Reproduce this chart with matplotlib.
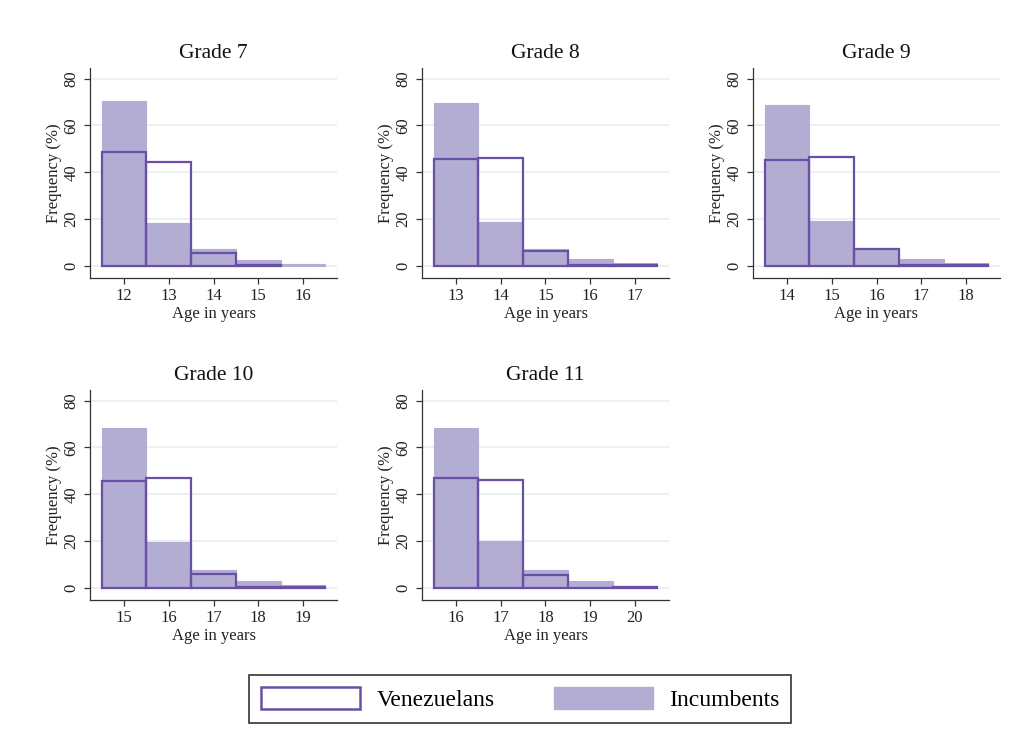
#!/usr/bin/env python3
"""Age distribution by grade: Venezuelans vs incumbents."""

import matplotlib
matplotlib.use("Agg")
import matplotlib.pyplot as plt
from matplotlib.patches import Patch
import numpy as np

# =============================================================================
# Data (frequency in %)
# =============================================================================

grades = ["Grade 7", "Grade 8", "Grade 9", "Grade 10", "Grade 11"]
ages_g7 = [12, 13, 14, 15, 16]
ages_g8 = [13, 14, 15, 16, 17]
ages_g9 = [14, 15, 16, 17, 18]
ages_g10 = [15, 16, 17, 18, 19]
ages_g11 = [16, 17, 18, 19, 20]

incumbents_g7 = [70.4, 18.3, 7.1, 2.6, 1.0]
incumbents_g8 = [69.6, 18.6, 7.4, 2.9, 1.1]
incumbents_g9 = [68.9, 19.3, 7.9, 2.9, 1.1]
incumbents_g10 = [68.4, 19.6, 7.9, 2.9, 1.1]
incumbents_g11 = [68.3, 19.9, 7.9, 2.9, 1.0]

venezuelans_g7 = [48.7, 44.6, 5.4, 0.4, 0.0]
venezuelans_g8 = [45.7, 46.1, 6.4, 0.4, 0.4]
venezuelans_g9 = [45.3, 46.4, 7.1, 0.4, 0.4]
venezuelans_g10 = [45.6, 47.1, 6.0, 0.3, 0.3]
venezuelans_g11 = [47.1, 46.3, 5.6, 0.2, 0.5]

ages = [ages_g7, ages_g8, ages_g9, ages_g10, ages_g11]
incumbents = [incumbents_g7, incumbents_g8, incumbents_g9, incumbents_g10, incumbents_g11]
venezuelans = [venezuelans_g7, venezuelans_g8, venezuelans_g9, venezuelans_g10, venezuelans_g11]

# =============================================================================
# Style
# =============================================================================

FILL = "#b3acd3"
EDGE = "#6a4fa6"
GRID = "#e6eff1"
AXIS = "#333333"
plt.rcParams["font.family"] = ["Liberation Serif", "DejaVu Serif"]

W, H = 1028, 750
fig = plt.figure(figsize=(W / 100, H / 100), dpi=100, facecolor="white")

col_left = [90, 422, 753]
row_bottom = [278, 600]
ax_w, ax_h = 247, 210

for i, grade in enumerate(grades):
    r, c = divmod(i, 3)
    ax = fig.add_axes([col_left[c] / W, 1 - row_bottom[r] / H, ax_w / W, ax_h / H])
    x = np.array(ages[i])
    inc = np.array(incumbents[i])
    ven = np.array(venezuelans[i])

    ax.bar(x, inc, width=1.0, color=FILL, edgecolor=FILL, linewidth=0.8, zorder=2)
    keep = ven > 0
    ax.bar(x[keep], ven[keep], width=1.0, facecolor="none", edgecolor=EDGE,
           linewidth=1.6, zorder=3)

    ax.set_xlim(x[0] - 0.76, x[-1] + 0.76)
    ax.set_ylim(-5.1, 84.5)
    ax.set_yticks([0, 20, 40, 60, 80])
    ax.set_xticks(x)
    ax.yaxis.grid(True, color=GRID, linewidth=1.2, zorder=0)
    ax.set_axisbelow(True)

    for s in ["top", "right"]:
        ax.spines[s].set_visible(False)
    for s in ["left", "bottom"]:
        ax.spines[s].set_color(AXIS)
        ax.spines[s].set_linewidth(0.9)

    ax.tick_params(axis="both", colors=AXIS, labelcolor="#222222", labelsize=12,
                   length=4, width=0.9)
    for lab in ax.get_yticklabels():
        lab.set_rotation(90)
        lab.set_va("center")

    ax.set_title(grade, fontsize=15.5, pad=7, color="#111111")
    ax.set_xlabel("Age in years", fontsize=12, labelpad=1, color="#222222")
    ax.set_ylabel("Frequency (%)", fontsize=12, labelpad=1, color="#222222")

handles = [
    Patch(facecolor="white", edgecolor=EDGE, linewidth=1.8, label="Venezuelans"),
    Patch(facecolor=FILL, edgecolor=FILL, label="Incumbents"),
]
leg = fig.legend(handles=handles, loc="center", bbox_to_anchor=(0.506, 0.068),
                 ncol=2, fontsize=17, frameon=True, fancybox=False,
                 handlelength=4.2, handleheight=1.05, handletextpad=0.7,
                 columnspacing=2.5, borderpad=0.5, borderaxespad=0)
leg.get_frame().set_edgecolor("black")
leg.get_frame().set_linewidth(1.2)

fig.savefig("out.png", dpi=100, facecolor="white")
